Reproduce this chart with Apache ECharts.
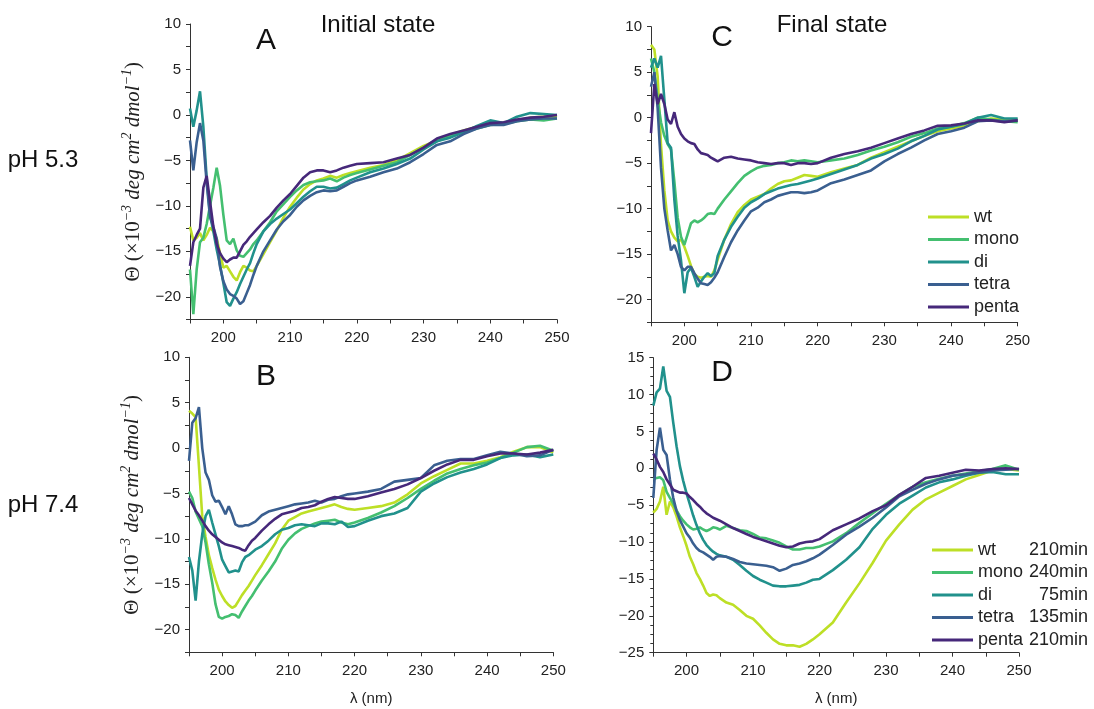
<!DOCTYPE html>
<html style="height: 100%">
   <head>
       <meta charset="utf-8">
   </head>
   <body style="height: 100%; margin: 0; background: #fff">
       <div id="container" style="width: 1094px; height: 709px"></div>
       <script type="text/javascript" src="https://cdn.jsdelivr.net/npm/echarts@6/dist/echarts.min.js"></script>
       <script type="text/javascript">
// wavelength grid (nm), shared by every curve
var wl = [195,195.5,196,196.5,197,197.5,198,198.5,199,199.5,200,200.5,201,201.5,202,202.5,203,203.5,204,204.5,205,
          206,207,208,209,210,211,212,213,214,215,216,217,218,219,220,
          222,224,226,228,230,232,234,236,238,240,242,244,246,248,250];

var names = ['wt', 'mono', 'di', 'tetra', 'penta'];
var timesD = ['210min', '240min', '75min', '135min', '210min'];
var xTicks = [200, 210, 220, 230, 240, 250];

// A: pH 5.3, initial state
var A_wt = [-12.3,-13.8,-13.5,-13.0,-13.8,-13.2,-12.4,-12.8,-13.6,-15.2,-16.8,-16.6,-17.2,-17.8,-18.2,-17.3,-16.6,-16.8,-17.1,-17.2,-16.6,
            -15.3,-14.0,-12.7,-11.3,-10.1,-9.1,-8.2,-7.6,-7.2,-7.0,-6.7,-6.9,-6.6,-6.4,-6.2,
            -5.8,-5.5,-5.0,-4.2,-3.4,-2.8,-2.2,-1.7,-1.3,-0.9,-0.9,-0.6,-0.3,-0.2,-0.2];
var A_mono = [-17,-21.9,-17,-14,-13.5,-12,-10,-8,-5.8,-7.8,-11,-13.8,-14.2,-13.6,-14.9,-15.5,-15.6,-15.2,-14.8,-14.2,-13.8,
              -12.8,-11.8,-10.6,-9.8,-9.0,-8.3,-7.7,-7.4,-7.3,-7.2,-7.0,-7.3,-6.9,-6.6,-6.4,
              -6.0,-5.6,-5.2,-4.4,-3.6,-2.9,-2.3,-1.9,-1.5,-1.1,-1.0,-0.7,-0.5,-0.6,-0.4];
var A_di = [0.7,-1.3,0.5,2.6,-1.3,-7,-11,-12.8,-14.8,-16.5,-18.5,-20.6,-21.0,-20.2,-19.5,-18.6,-17.8,-17.0,-16.3,-15.2,-14.2,
            -12.8,-12.0,-11.4,-10.9,-10.4,-9.7,-9.0,-8.4,-7.9,-7.9,-8.1,-8.0,-7.6,-7.2,-6.9,
            -6.3,-5.9,-5.4,-4.8,-3.8,-2.9,-2.5,-1.9,-1.2,-0.6,-0.9,-0.2,0.2,0.1,0.0];
var A_tetra = [-2.8,-6.1,-3,-0.9,-2.8,-7.5,-11.2,-12.3,-13.6,-16.7,-18.3,-19.2,-19.7,-19.9,-20.2,-20.8,-20.5,-19.6,-18.7,-17.6,-16.6,
               -15,-13.8,-12.6,-11.7,-11.0,-10.1,-9.4,-8.9,-8.5,-8.3,-8.4,-8.3,-7.9,-7.5,-7.2,
               -6.8,-6.3,-5.9,-5.2,-4.3,-3.3,-2.9,-2.1,-1.5,-1.1,-1.1,-0.7,-0.5,-0.4,-0.4];
var A_penta = [-16.6,-14,-13.2,-12.5,-8,-6.7,-9.5,-12.3,-14.2,-15.2,-15.8,-16.2,-15.9,-15.7,-15.7,-15,-14.3,-13.9,-13.4,-13.0,-12.6,
               -11.8,-11.1,-10.2,-9.4,-8.7,-7.8,-6.9,-6.3,-6.1,-6.1,-6.3,-6.1,-5.8,-5.6,-5.4,
               -5.3,-5.2,-4.8,-4.4,-3.6,-2.6,-2.1,-1.7,-1.3,-0.9,-0.8,-0.5,-0.3,-0.2,0];

// B: pH 7.4, initial state
var B_wt = [4.1,3.8,3.4,-2,-7.5,-9.8,-11.8,-13.2,-14.5,-15.6,-16.3,-16.9,-17.3,-17.6,-17.4,-16.8,-16.2,-15.7,-15.2,-14.6,-14.0,
            -12.9,-11.7,-10.5,-9.0,-8.0,-7.6,-7.2,-7.0,-6.8,-6.6,-6.4,-6.2,-6.5,-6.7,-6.8,
            -6.6,-6.4,-6.0,-5.1,-3.9,-3.1,-2.4,-1.7,-1.7,-1.4,-1.0,-0.4,0.1,0.1,-0.5];
var B_mono = [-4.8,-5.5,-7.0,-7.8,-8.6,-10.4,-12.8,-14.8,-17.2,-18.6,-18.8,-18.6,-18.5,-18.3,-18.4,-18.7,-18.0,-17.4,-16.8,-16.3,-15.7,
              -14.6,-13.6,-12.5,-11.1,-10.1,-9.4,-8.9,-8.6,-8.3,-8.1,-8.0,-7.9,-8.2,-8.4,-8.2,
              -7.7,-7.1,-6.4,-5.5,-4.5,-3.6,-2.8,-2.3,-1.9,-1.6,-1.1,-0.5,0.1,0.25,-0.3];
var B_di = [-12,-13.5,-16.8,-12.5,-9.5,-7.5,-6.8,-8.2,-9.5,-10.8,-12.3,-13.0,-13.7,-13.6,-13.5,-13.6,-12.6,-12.0,-11.8,-11.5,-11.2,
            -10.8,-10.2,-9.5,-9.0,-8.8,-8.5,-8.4,-8.5,-8.6,-8.3,-8.3,-8.4,-8.1,-8.7,-8.6,
            -8.0,-7.5,-7.2,-6.6,-4.8,-3.9,-3.2,-2.7,-2.3,-1.8,-1.1,-0.8,-0.7,-1.0,-0.7];
var B_tetra = [-1.4,2.8,3.3,4.5,0,-2.7,-3.5,-5.2,-5.9,-5.8,-6.5,-7.3,-6.4,-7.3,-8.4,-8.6,-8.6,-8.5,-8.5,-8.3,-8.1,
               -7.4,-7.0,-6.8,-6.6,-6.4,-6.2,-6.1,-6.0,-5.8,-6.0,-5.7,-5.6,-5.3,-5.1,-5.0,
               -4.8,-4.5,-3.7,-3.5,-3.3,-1.9,-1.4,-1.2,-1.2,-0.8,-0.4,-0.6,-0.9,-0.8,-0.2];
var B_penta = [-5.5,-6.2,-6.9,-7.4,-8.0,-8.6,-9.1,-9.5,-9.8,-10.1,-10.4,-10.6,-10.7,-10.8,-10.9,-11.0,-11.2,-11.3,-10.7,-10.2,-9.9,
               -9.1,-8.4,-7.8,-7.3,-7.1,-6.9,-6.6,-6.5,-6.3,-5.9,-5.6,-5.4,-5.5,-5.6,-5.6,
               -5.3,-4.9,-4.5,-4.0,-3.3,-2.5,-1.8,-1.3,-1.3,-0.9,-0.6,-0.6,-0.7,-0.5,-0.2];

// C: pH 5.3, final state
var C_wt = [8,7.5,4.5,-3,-8,-11.3,-12.5,-13.2,-13.6,-13.4,-14.2,-15.2,-16.3,-17.2,-17.5,-17.6,-17.5,-17.4,-17.5,-16.8,-15.6,
            -13.4,-11.7,-10.4,-9.6,-9.0,-8.7,-8.4,-7.8,-7.3,-7.0,-6.9,-6.6,-6.3,-6.4,-6.5,
            -6.0,-5.6,-5.2,-4.4,-3.8,-3.2,-2.6,-2.0,-1.5,-1.2,-0.9,-0.4,-0.1,-0.2,-0.2];
var C_mono = [6.5,5,2,-0.5,-2,-2.9,-3.5,-7,-11,-13.1,-14.0,-12.8,-11.6,-11.3,-11.5,-11.3,-11.0,-10.6,-10.5,-10.6,-10.0,
              -9.0,-8.1,-7.2,-6.4,-5.9,-5.5,-5.3,-5.2,-5.0,-4.9,-4.7,-4.8,-4.7,-4.8,-4.9,
              -4.7,-4.5,-4.1,-3.6,-3.2,-2.7,-2.1,-1.7,-1.2,-1.0,-0.6,0,-0.2,-0.4,-0.5];
var C_di = [5.5,6.5,5.5,6.8,2,-2.8,-3.3,-9,-13,-15.7,-19.3,-17,-16.5,-17.5,-18.6,-18.0,-17.5,-17.1,-17.4,-17.1,-15.2,
            -13.4,-12.0,-10.9,-9.9,-9.3,-8.9,-8.4,-8.1,-7.8,-7.6,-7.4,-7.3,-7.1,-6.9,-6.7,
            -6.2,-5.7,-5.2,-4.5,-4.0,-3.4,-2.6,-2.0,-1.3,-1.0,-0.7,0,0.3,-0.1,-0.1];
var C_tetra = [3.4,5,1,-5.5,-10,-12.4,-14.6,-14.0,-15.0,-16.4,-16.8,-16.4,-16.4,-17.1,-17.7,-18.2,-18.3,-18.4,-18.1,-17.6,-17.0,
               -15.3,-13.7,-12.4,-11.3,-10.3,-9.9,-9.3,-9.0,-8.6,-8.4,-8.2,-8.2,-8.3,-8.2,-8.0,
               -7.2,-6.8,-6.3,-5.8,-4.8,-4.0,-3.3,-2.5,-1.8,-1.5,-1.1,-0.4,-0.3,-0.4,-0.3];
var C_penta = [-1.7,3.7,1.5,2.6,1.5,-0.2,-0.7,0.6,-1.0,-1.8,-2.3,-2.6,-2.8,-2.9,-3.5,-3.9,-4.0,-4.1,-4.4,-4.6,-4.8,
               -4.4,-4.3,-4.5,-4.6,-4.7,-4.9,-5.0,-5.1,-5.0,-5.0,-5.2,-5.0,-5.0,-5.1,-5.0,
               -4.4,-4.0,-3.7,-3.3,-2.8,-2.3,-1.8,-1.4,-0.9,-0.85,-0.65,-0.3,-0.3,-0.5,-0.3];

// D: pH 7.4, final state
var D_wt = [-6.0,-5.5,-4.5,-2.5,-6.3,-4.5,-5.3,-6.5,-8.0,-9.2,-10.5,-12.0,-13.0,-14.2,-15.0,-15.9,-16.9,-17.3,-17.1,-17.2,-17.6,
            -18.2,-18.5,-19.2,-20.0,-20.4,-21.3,-22.3,-23.2,-23.8,-24.0,-24.0,-24.2,-23.8,-23.2,-22.5,
            -20.9,-18.2,-15.6,-12.8,-9.8,-7.6,-5.6,-4.2,-3.3,-2.4,-1.5,-0.9,-0.3,-0.1,-0.3];
var D_mono = [-1.5,-1.3,-1.2,-1.6,-3.2,-4.0,-4.8,-5.7,-6.5,-7.1,-7.6,-8.0,-8.3,-8.2,-8.0,-8.3,-8.5,-8.3,-8.0,-8.1,-8.3,
              -7.8,-8.1,-8.4,-8.5,-8.9,-9.4,-9.5,-9.8,-10.1,-10.6,-11.0,-11.0,-10.8,-10.8,-10.6,
              -9.9,-8.8,-7.4,-6.1,-4.8,-3.6,-2.5,-1.9,-1.4,-1.0,-0.7,-0.4,-0.1,0.4,-0.2];
var D_di = [8.5,10.3,10.8,13.8,10.5,9.7,6.2,3.0,0.3,-1.7,-3.4,-4.9,-6.4,-7.7,-8.8,-9.7,-10.4,-10.9,-11.3,-11.6,-11.8,
            -12.0,-12.4,-13.1,-13.9,-14.6,-15.1,-15.5,-15.9,-16.0,-16.0,-15.9,-15.8,-15.5,-15.1,-15.0,
            -13.8,-12.4,-10.7,-8.2,-6.3,-4.8,-3.7,-2.6,-1.9,-1.5,-1.0,-0.6,-0.5,-0.8,-0.8];
var D_tetra = [-4,2.5,5.5,2.5,1.8,-1.5,-4.0,-5.8,-7.0,-7.9,-8.8,-9.4,-10.2,-10.8,-11.2,-11.4,-11.7,-12.0,-12.4,-12.0,-11.9,
               -12.0,-12.3,-12.7,-12.9,-13.0,-13.1,-13.2,-13.4,-13.9,-13.6,-13.1,-12.9,-12.6,-12.2,-11.7,
               -10.4,-9.0,-7.9,-6.7,-5.3,-3.8,-2.9,-2.1,-1.5,-1.0,-0.8,-0.55,-0.3,-0.2,-0.1];
var D_penta = [2.0,1.2,0.2,-0.5,-1.5,-2.2,-2.9,-3.1,-3.3,-3.3,-3.4,-3.9,-4.3,-4.8,-5.2,-5.7,-6.1,-6.4,-6.7,-6.9,-7.1,
               -7.6,-8.1,-8.5,-8.9,-9.3,-9.6,-9.9,-10.2,-10.5,-10.7,-10.6,-10.2,-10.0,-9.9,-9.6,
               -8.4,-7.6,-6.8,-5.8,-5.0,-3.6,-2.5,-1.3,-1.0,-0.6,-0.2,-0.3,-0.1,0,-0.1];

var colors = ['#bddf26', '#44bf70', '#21918c', '#3a5f90', '#46287a'];
var panels = [
    [A_wt, A_mono, A_di, A_tetra, A_penta],
    [B_wt, B_mono, B_di, B_tetra, B_penta],
    [C_wt, C_mono, C_di, C_tetra, C_penta],
    [D_wt, D_mono, D_di, D_tetra, D_penta]
];

var dom = document.getElementById("container");
var myChart = echarts.init(dom);
var font = 'Arial, "Liberation Sans", sans-serif';
var ink = '#222';

function minus(v) {
    return v < 0 ? '\u2212' + Math.abs(v) : String(v);
}

var yName = '{a|\u0398 (\u00d710}{s|\u22123}{b| deg cm}{s|2}{b| dmol}{s|\u22121}{a|)}';
var yNameRich = {
    a: {fontFamily: '"Liberation Serif", serif', fontSize: 21, lineHeight: 26, color: ink},
    b: {fontFamily: '"Liberation Serif", serif', fontStyle: 'italic', fontSize: 21, lineHeight: 26, color: ink},
    s: {fontFamily: '"Liberation Serif", serif', fontStyle: 'italic', fontSize: 14, lineHeight: 26, verticalAlign: 'top', color: ink}
};

var grids = [
    {left: 190, top: 24, width: 367, height: 295.5},
    {left: 189, top: 357.3, width: 364.3, height: 295},
    {left: 651, top: 26.7, width: 366.7, height: 295.6},
    {left: 653.3, top: 357.7, width: 365.7, height: 295}
];

var xAxes = grids.map(function (g, i) {
    return {
        type: 'value', gridIndex: i, min: 195, max: 250, interval: 5,
        splitLine: {show: false},
        axisLine: {onZero: false, lineStyle: {color: '#333', width: 1}},
        axisTick: {length: 4, lineStyle: {color: '#333'}},
        axisLabel: {
            margin: 11, color: ink, fontFamily: font, fontSize: 15,
            formatter: function (v) { return xTicks.indexOf(v) >= 0 ? String(v) : ''; }
        },
        name: (i === 1 || i === 3) ? '\u03bb (nm)' : '',
        nameLocation: 'middle', nameGap: 39,
        nameTextStyle: {color: ink, fontFamily: font, fontSize: 15}
    };
});

var yAxes = grids.map(function (g, i) {
    var isD = i === 3;
    return {
        type: 'value', gridIndex: i,
        min: isD ? -25 : -22.5, max: isD ? 15 : 10, interval: isD ? 5 : 2.5,
        splitLine: {show: false},
        axisLine: {show: true, onZero: false, lineStyle: {color: '#333', width: 1}},
        axisTick: {show: true, length: 4, lineStyle: {color: '#333'}},
        minorTick: {show: isD, splitNumber: 4, length: 3, lineStyle: {color: '#333'}},
        axisLabel: {
            margin: 9, color: ink, fontFamily: font, fontSize: 15,
            formatter: function (v) { return (v % 5 === 0) ? minus(v) : ''; }
        },
        name: (i === 0 || i === 1) ? yName : '',
        nameLocation: 'middle', nameGap: 44, nameRotate: 90,
        nameTextStyle: {rich: yNameRich}
    };
});

var series = [];
panels.forEach(function (set, p) {
    set.forEach(function (ys, k) {
        series.push({
            name: names[k],
            type: 'line',
            xAxisIndex: p, yAxisIndex: p,
            showSymbol: false,
            lineStyle: {width: 2.6, color: colors[k]},
            itemStyle: {color: colors[k]},
            data: wl.map(function (x, j) { return [x, ys[j]]; })
        });
    });
});

function label(text, x, y, size) {
    return {
        type: 'text', x: x, y: y,
        style: {text: text, font: size + 'px ' + font, fill: '#111',
                textAlign: 'center', textVerticalAlign: 'middle',
                align: 'center', verticalAlign: 'middle'}
    };
}

var legendText = {color: ink, fontFamily: font, fontSize: 18, lineHeight: 18};

option = {
    backgroundColor: '#fff',
    animation: false,
    grid: grids,
    xAxis: xAxes,
    yAxis: yAxes,
    legend: [
        {
            left: 923, top: 203, orient: 'vertical', icon: 'rect',
            itemWidth: 41, itemHeight: 3, itemGap: 4.5,
            textStyle: legendText, data: names
        },
        {
            left: 927, top: 536, orient: 'vertical', icon: 'rect',
            itemWidth: 41, itemHeight: 3, itemGap: 4.5,
            data: names,
            formatter: function (name) {
                return '{n|' + name + '}{t|' + timesD[names.indexOf(name)] + '}';
            },
            textStyle: {
                color: ink, fontFamily: font, fontSize: 18, lineHeight: 18,
                rich: {
                    n: {width: 50, fontSize: 18, fontFamily: font, color: ink},
                    t: {width: 60, align: 'right', fontSize: 18, fontFamily: font, color: ink}
                }
            }
        }
    ],
    graphic: [
        label('Initial state', 378, 25, 24),
        label('Final state', 832, 25, 24),
        label('A', 266, 41, 30),
        label('C', 722, 38, 30),
        label('B', 266, 377, 30),
        label('D', 722, 373, 30),
        label('pH 5.3', 43, 160, 24),
        label('pH 7.4', 43, 505, 24)
    ],
    series: series
};
if (option && typeof option === "object") {
    myChart.setOption(option, true);
}
       </script>
   </body>
</html>
